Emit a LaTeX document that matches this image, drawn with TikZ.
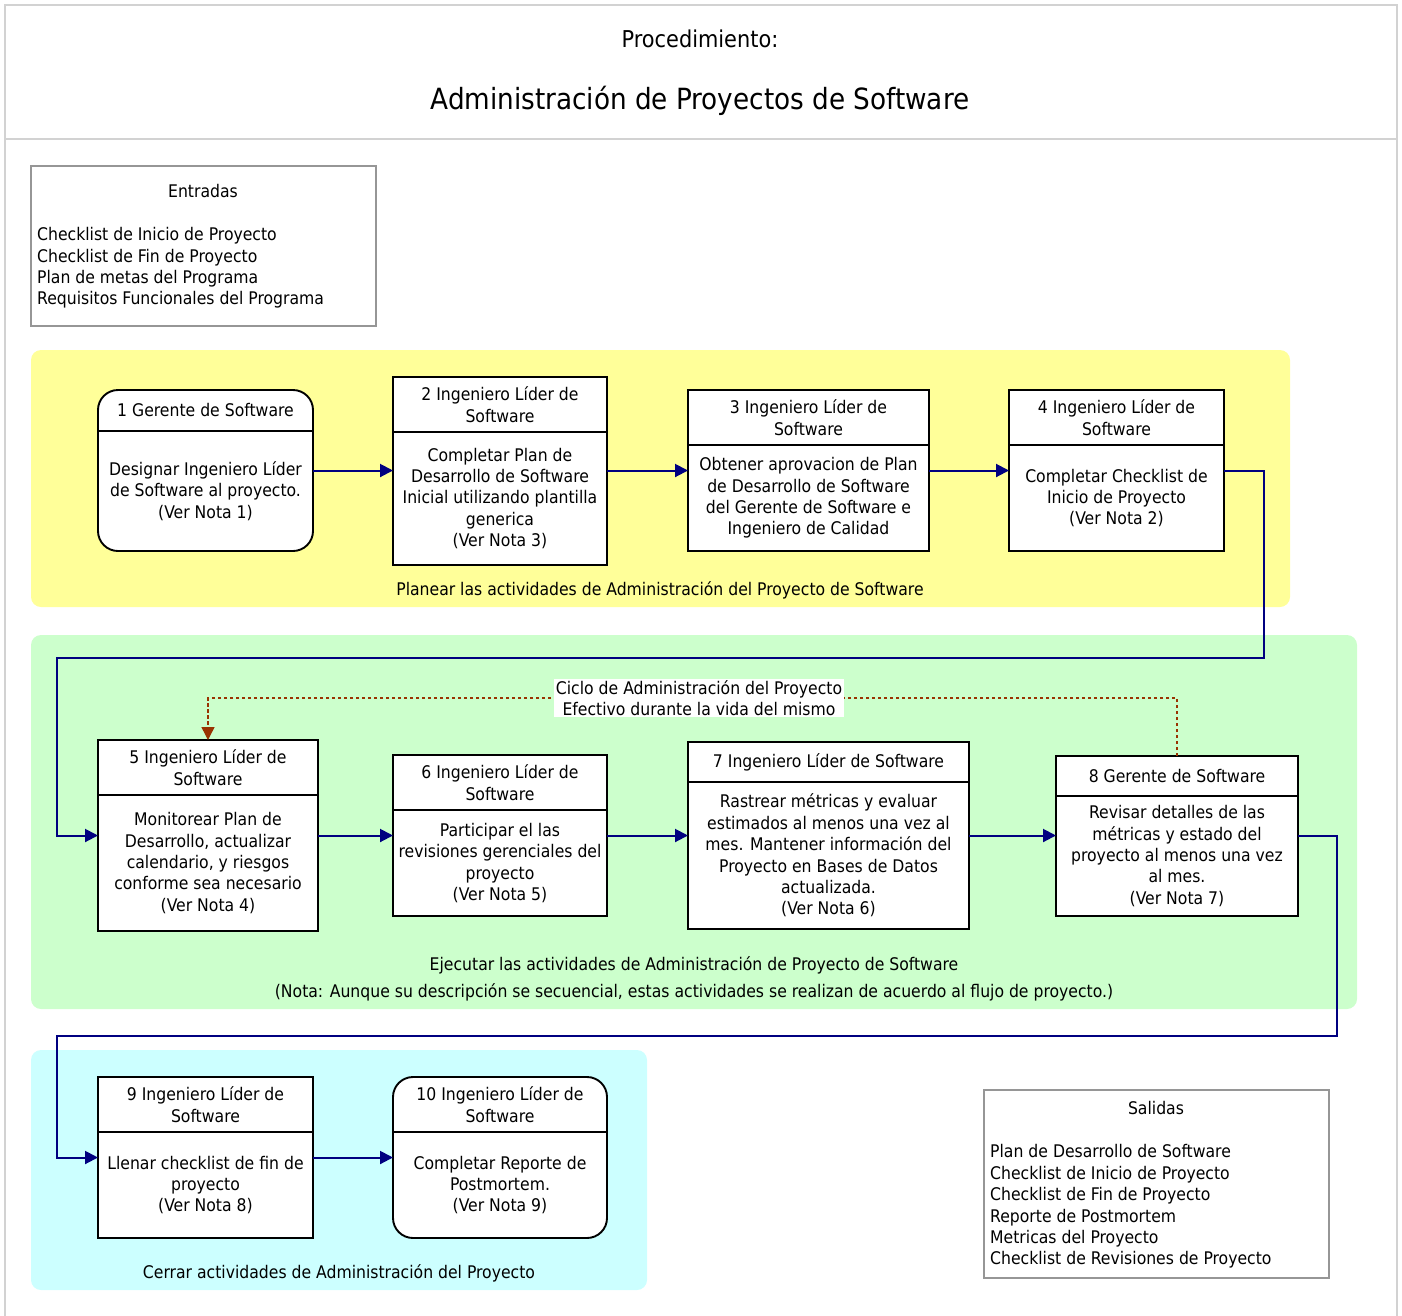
\documentclass[tikz,border=0pt]{standalone}
\usepackage{fontspec}
\setmainfont{DejaVu Sans Condensed}
\usetikzlibrary{arrows.meta,calc}

\definecolor{navy}{RGB}{0,0,128}
\definecolor{rust}{RGB}{153,51,0}
\definecolor{laneyellow}{RGB}{255,255,153}
\definecolor{lanegreen}{RGB}{204,255,204}
\definecolor{lanecyan}{RGB}{204,255,255}
\definecolor{framegray}{RGB}{210,210,210}
\definecolor{listgray}{RGB}{150,150,150}

\newcommand\bodyfont{\fontsize{17.4}{21.4}\selectfont}
\newcommand\titlefont{\fontsize{29.2}{34}\selectfont}
\newcommand\subtitlefont{\fontsize{23.2}{28}\selectfont}

% #1 extra style, #2 name, #3 x1, #4 y1, #5 x2, #6 y2, #7 divider y, #8 header, #9 body
\newcommand\procbox[9][]{%
  \node[box, #1, anchor=north west, minimum width={#5-#3}, minimum height={#6-#4}] (#2) at (#3,#4) {};
  \draw[divider] (#3,#7) -- (#5,#7);
  \node[txt] (#2h) at ({(#3+#5)/2},{(#4+#7)/2}) {#8};
  \node[txt] (#2b) at ({(#3+#5)/2},{(#7+#6)/2}) {#9};
}

\begin{document}
\begin{tikzpicture}[x=1pt,y=-1pt,
  box/.style={draw=black, line width=1.9pt, fill=white, inner sep=0pt, outer sep=0pt},
  roundbox/.style={rounded corners=20pt},
  divider/.style={draw=black, line width=1.9pt},
  txt/.style={align=center, font=\bodyfont, inner sep=0pt},
  lane/.style={rounded corners=10pt},
  listbox/.style={draw=listgray, line width=1.5pt, fill=white},
  flow/.style={draw=navy, line width=2pt, -{Triangle[length=13pt,width=13pt]}},
  cyclearrow/.style={draw=rust, line width=1.4pt, dash pattern=on 3.5pt off 2.5pt, -{Triangle[length=13pt,width=13pt]}},
]
\useasboundingbox (0,0) rectangle (1402,1315);

% page frame and header rule
\draw[framegray, line width=1.5pt] (5,1330) -- (5,5) -- (1397,5) -- (1397,1330);
\draw[framegray, line width=1.5pt] (5,139) -- (1397,139);
\node[font=\subtitlefont, inner sep=0pt] (proc) at (700,39) {Procedimiento:};
\node[font=\titlefont, inner sep=0pt] (title) at (700,100.5) {Administración de Proyectos de Software};

% inputs
\draw[listbox] (31,166) rectangle (376,326);
\node[txt] (inhead) at (203,191) {Entradas};
\node[txt, align=left, anchor=west] (inlist) at (37,268) {Checklist de Inicio de Proyecto\\Checklist de Fin de Proyecto\\Plan de metas del Programa\\Requisitos Funcionales del Programa};

% lanes
\fill[lane, laneyellow] (31,350) rectangle (1290,607);
\fill[lane, lanegreen] (31,635) rectangle (1357,1009);
\fill[lane, lanecyan] (31,1050) rectangle (647,1290);
\node[txt] (lane1) at (660,590) {Planear las actividades de Administración del Proyecto de Software};
\node[txt] (lane2a) at (694,965) {Ejecutar las actividades de Administración de Proyecto de Software};
\node[txt] (lane2b) at (694,992) {(Nota: Aunque su descripción se secuencial, estas actividades se realizan de acuerdo al flujo de proyecto.)};
\node[txt] (lane3) at (339,1273) {Cerrar actividades de Administración del Proyecto};

% activities
\procbox[roundbox]{b1}{98}{390}{313}{551}{431}{1 Gerente de Software}{Designar Ingeniero Líder\\de Software al proyecto.\\(Ver Nota 1)}
\procbox{b2}{393}{377}{607}{565}{432}{2 Ingeniero Líder de\\Software}{Completar Plan de\\Desarrollo de Software\\Inicial utilizando plantilla\\generica\\(Ver Nota 3)}
\procbox{b3}{688}{390}{929}{551}{445}{3 Ingeniero Líder de\\Software}{Obtener aprovacion de Plan\\de Desarrollo de Software\\del Gerente de Software e\\Ingeniero de Calidad}
\procbox{b4}{1009}{390}{1224}{551}{445}{4 Ingeniero Líder de\\Software}{Completar Checklist de\\Inicio de Proyecto\\(Ver Nota 2)}
\procbox{b5}{98}{740}{318}{931}{795}{5 Ingeniero Líder de\\Software}{Monitorear Plan de\\Desarrollo, actualizar\\calendario, y riesgos\\conforme sea necesario\\(Ver Nota 4)}
\procbox{b6}{393}{755}{607}{916}{810}{6 Ingeniero Líder de\\Software}{Participar el las\\revisiones gerenciales del\\proyecto\\(Ver Nota 5)}
\procbox{b7}{688}{742}{969}{929}{782}{7 Ingeniero Líder de Software}{Rastrear métricas y evaluar\\estimados al menos una vez al\\mes. Mantener información del\\Proyecto en Bases de Datos\\actualizada.\\(Ver Nota 6)}
\procbox{b8}{1056}{756}{1298}{916}{796}{8 Gerente de Software}{Revisar detalles de las\\métricas y estado del\\proyecto al menos una vez\\al mes.\\(Ver Nota 7)}
\procbox{b9}{98}{1077}{313}{1238}{1132}{9 Ingeniero Líder de\\Software}{Llenar checklist de fin de\\proyecto\\(Ver Nota 8)}
\procbox[roundbox]{b10}{393}{1077}{607}{1238}{1132}{10 Ingeniero Líder de\\Software}{Completar Reporte de\\Postmortem.\\(Ver Nota 9)}

% outputs
\draw[listbox] (984,1090) rectangle (1329,1278);
\node[txt] (outhead) at (1156,1108) {Salidas};
\node[txt, align=left, anchor=west] (outlist) at (990,1206.5) {Plan de Desarrollo de Software\\Checklist de Inicio de Proyecto\\Checklist de Fin de Proyecto\\Reporte de Postmortem\\Metricas del Proyecto\\Checklist de Revisiones de Proyecto};

% flow
\coordinate (r1) at (1264,658);
\coordinate (l1) at (57,658);
\coordinate (r2) at (1337,1036);
\coordinate (l2) at (57,1036);
\draw[flow] (b1.east) -- (b1.east -| b2.west);
\draw[flow] (b2.east |- b1.east) -- (b1.east -| b3.west);
\draw[flow] (b3.east) -- (b3.east -| b4.west);
\draw[flow] (b4.east) -| (r1) -- (l1) |- (b5.west);
\draw[flow] (b5.east) -- (b5.east -| b6.west);
\draw[flow] (b6.east |- b5.east) -- (b5.east -| b7.west);
\draw[flow] (b7.east |- b5.east) -- (b5.east -| b8.west);
\draw[flow] (b8.east) -| (r2) -- (l2) |- (b9.west);
\draw[flow] (b9.east) -- (b9.east -| b10.west);

% project cycle
\coordinate (cyc) at (699,698);
\draw[cyclearrow] (b8.north) -- (b8.north |- cyc) -- (b5.north |- cyc) -- (b5.north);
\node[txt, fill=white, inner sep=1.5pt] (cyclabel) at (cyc) {Ciclo de Administración del Proyecto\\Efectivo durante la vida del mismo};
\end{tikzpicture}
\end{document}
